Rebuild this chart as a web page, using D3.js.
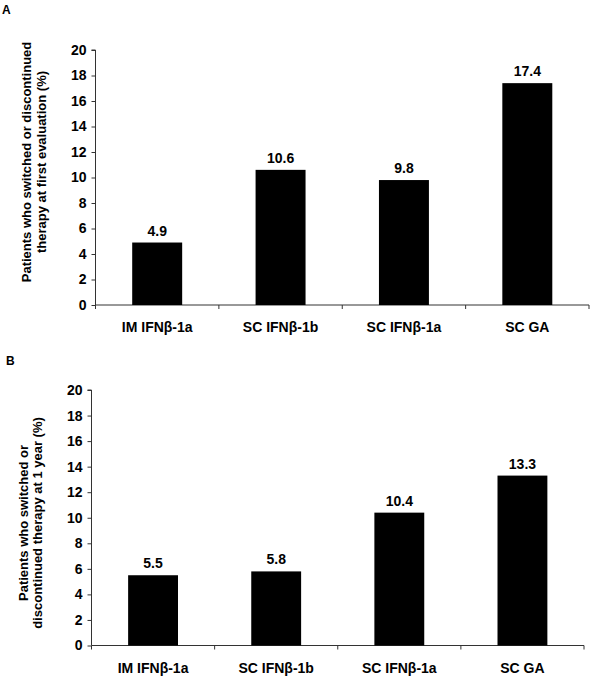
<!DOCTYPE html>
<html><head><meta charset="utf-8">
<script src="https://cdn.jsdelivr.net/npm/d3@7"></script>
<style>body{margin:0;background:#fff}svg{display:block}text{font-family:Arial,"Liberation Sans",sans-serif;font-weight:bold;fill:#000}</style>
</head><body>
<svg id="c" width="600" height="690"></svg>
<script>
const categories = ["IM IFNβ-1a", "SC IFNβ-1b", "SC IFNβ-1a", "SC GA"];
const valuesA = [4.9, 10.6, 9.8, 17.4];
const valuesB = [5.5, 5.8, 10.4, 13.3];
const yTicks = [0, 2, 4, 6, 8, 10, 12, 14, 16, 18, 20];
const panelLabels = ["A", "B"];
const titlesA = ["Patients who switched or discontinued", "therapy at first evaluation (%)"];
const titlesB = ["Patients who switched or", "discontinued therapy at 1 year (%)"];

const svg = d3.select("#c");

function panel(cfg) {
  const g = svg.append("g");
  const x = d3.scaleBand().domain(categories).range([cfg.x0, cfg.x1]).padding(0);
  const y = d3.scaleLinear().domain([0, 20]).range([cfg.y0, cfg.y1]);
  const bw = x.bandwidth() * 0.405;

  g.append("text").attr("x", cfg.lx).attr("y", cfg.ly).style("font-size", "12px").text(cfg.label);

  // y axis
  const ya = g.append("g").attr("transform", `translate(${cfg.x0},0)`)
    .call(d3.axisLeft(y).tickValues(yTicks).tickSize(4).tickPadding(5));
  ya.select(".domain").attr("stroke", "#333").attr("d", `M-4,${y(20)}H0V${y(0)}`);
  ya.selectAll(".tick line").attr("stroke", "#333");
  ya.selectAll(".tick text").style("font-size", "14px").style("font-family", "Arial, 'Liberation Sans', sans-serif").style("font-weight", "bold").attr("fill", "#000");

  // x axis
  const xa = g.append("g");
  xa.append("line").attr("x1", cfg.x0).attr("x2", cfg.x1).attr("y1", y(0)).attr("y2", y(0)).attr("stroke", "#333");
  const bounds = categories.map(c => x(c)).concat([x(categories[categories.length - 1]) + x.bandwidth()]);
  xa.selectAll("line.t").data(bounds).enter().append("line").attr("class", "t")
    .attr("x1", d => d).attr("x2", d => d).attr("y1", y(0)).attr("y2", y(0) + 4).attr("stroke", "#333");
  xa.selectAll("text").data(categories).enter().append("text")
    .attr("x", d => x(d) + x.bandwidth() / 2).attr("y", y(0) + 27)
    .attr("text-anchor", "middle").style("font-size", "14px").text(d => d);

  // bars
  g.selectAll("rect").data(cfg.values).enter().append("rect")
    .attr("x", (d, i) => x(categories[i]) + (x.bandwidth() - bw) / 2)
    .attr("width", bw)
    .attr("y", d => y(d)).attr("height", d => y(0) - y(d))
    .attr("fill", "#000");
  g.selectAll("text.v").data(cfg.values).enter().append("text").attr("class", "v")
    .attr("x", (d, i) => x(categories[i]) + x.bandwidth() / 2)
    .attr("y", d => y(d) - 7).attr("text-anchor", "middle")
    .style("font-size", "14px").text(d => d.toFixed(1));

  // y title
  cfg.titles.forEach((t, i) => {
    g.append("text").attr("transform", `translate(${cfg.tx[i]},${cfg.tcy}) rotate(-90)`)
      .attr("text-anchor", "middle").style("font-size", "13px").text(t);
  });
}

panel({label: panelLabels[0], lx: 2, ly: 14, x0: 95.5, x1: 589, y0: 305, y1: 50, values: valuesA, titles: titlesA, tx: [31, 46], tcy: 162});
panel({label: panelLabels[1], lx: 6, ly: 365, x0: 91.5, x1: 584, y0: 645.5, y1: 390, values: valuesB, titles: titlesB, tx: [27.5, 42], tcy: 523});
</script>
</body></html>
